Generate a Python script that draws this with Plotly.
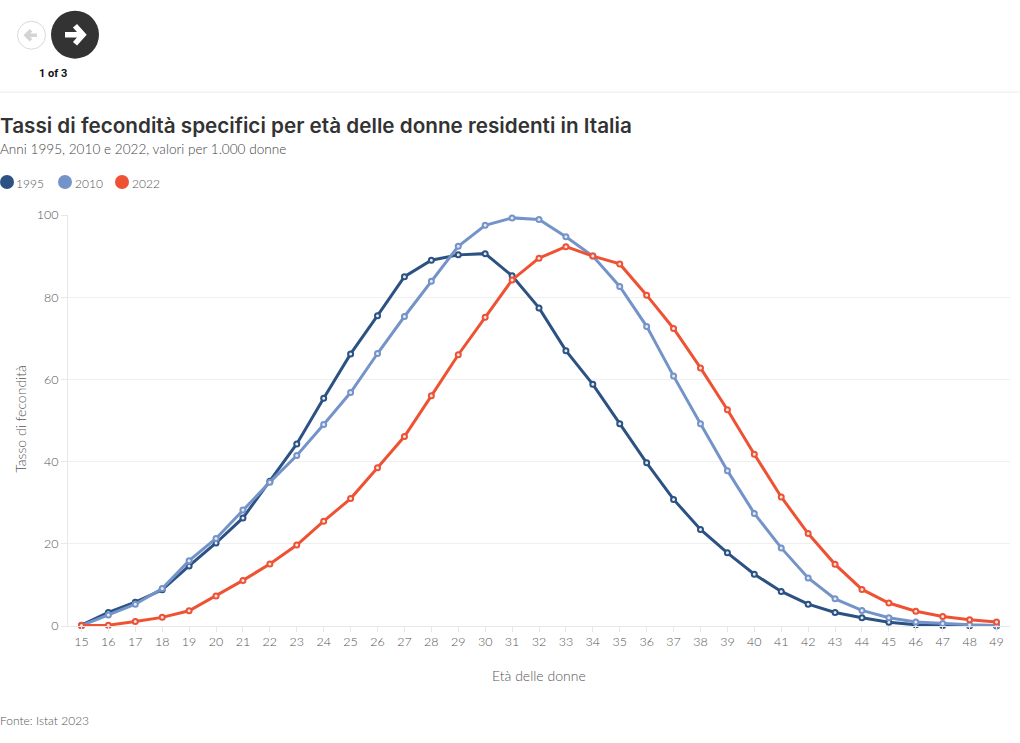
import plotly.graph_objects as go

ages = list(range(15, 50))
v1995 = [0.2,3.3,5.8,8.8,14.6,20.2,26.3,35.2,44.3,55.4,66.2,75.5,85.0,89.0,90.3,90.6,85.2,77.4,67.0,58.8,49.2,39.7,30.8,23.5,17.8,12.6,8.4,5.3,3.3,2.0,0.9,0.3,0.1,0.05,0.02]
v2010 = [0.1,2.7,5.3,9.1,15.9,21.3,28.2,35.0,41.5,49.0,56.8,66.3,75.3,83.9,92.4,97.5,99.3,98.9,94.7,90.0,82.6,72.9,60.8,49.2,37.8,27.4,19.0,11.7,6.6,3.8,2.0,1.0,0.6,0.3,0.1]
v2022 = [0.1,0.2,1.1,2.1,3.7,7.3,11.1,15.1,19.7,25.5,31.0,38.5,46.1,56.0,66.0,75.1,84.2,89.5,92.3,90.0,88.1,80.5,72.4,62.8,52.6,41.8,31.4,22.5,15.0,8.9,5.6,3.6,2.3,1.5,1.0]
series = [("1995", v1995, "#2b5283"), ("2010", v2010, "#7494c9"), ("2022", v2022, "#ee5233")]
y_ticks = [0, 20, 40, 60, 80, 100]

W, H = 1020, 743
L, R, T, B = 68, 1010, 215, 626.5
FONT = "Lato"
TITLE_FONT = "Inter"
GREY = "#555555"

def px(x): return (x - L) / (R - L)
def py(y): return (B - y) / (B - T)

fig = go.Figure()
for name, vals, col in series:
    fig.add_trace(go.Scatter(x=ages, y=vals, name=name, mode="lines+markers", cliponaxis=False,
                             line=dict(color=col, width=3),
                             marker=dict(size=5, color="#e8eaf0", line=dict(color=col, width=2)),
                             showlegend=False))

def text(x, y, s, size, color=GREY, anchor="left", weight=300, angle=0, family=FONT):
    fig.add_annotation(xref="paper", yref="paper", x=px(x), y=py(y), text=s, showarrow=False,
                       xanchor=anchor, yanchor="middle", textangle=angle, borderpad=0, borderwidth=0,
                       font=dict(family=family, size=size, color=color, weight=weight))

def circle(cx, cy, r, fill, line=None):
    fig.add_shape(type="circle", xref="paper", yref="paper", x0=px(cx-r), x1=px(cx+r), y0=py(cy+r), y1=py(cy-r),
                  fillcolor=fill, line=dict(color=line or fill, width=1 if line else 0))

# navigation chrome
circle(31.5, 35, 14, "#ffffff", "#d9d9d9")
fig.add_shape(type="path", xref="paper", yref="paper",
              path=f"M {px(37)} {py(35)} L {px(26)} {py(35)} M {px(31)} {py(30)} L {px(26)} {py(35)} L {px(31)} {py(40)}",
              line=dict(color="#d4d4d4", width=3.5))
circle(75, 34.5, 24, "#333333")
fig.add_shape(type="path", xref="paper", yref="paper",
              path=f"M {px(65)} {py(34.5)} L {px(83)} {py(34.5)} M {px(75)} {py(25.5)} L {px(83)} {py(34.5)} L {px(75)} {py(43.5)}",
              line=dict(color="#ffffff", width=5.5))
fig.add_shape(type="line", xref="paper", yref="paper", x0=px(0), x1=px(W), y0=py(92), y1=py(92),
              line=dict(color="#ececec", width=1))
text(53, 73.5, "1 of 3", 11, "#111111", "center", weight=700, family="Roboto")

# headings
text(0, 125, "Tassi di fecondità specifici per età delle donne residenti in Italia", 20.7, "#333333", weight=600, family=TITLE_FONT)
text(0, 149, "Anni 1995, 2010 e 2022, valori per 1.000 donne", 13.6, "#444444")

# legend
for (name, _, col), cx, tx in zip(series, (7, 65, 122), (16, 75, 132)):
    circle(cx, 182, 7, col)
    text(tx, 183, name, 12, GREY)

text(0, 721, "Fonte: Istat 2023", 12, GREY)
text(539, 676, "Età delle donne", 14, GREY, "center")
text(21, 419, "Tasso di fecondità", 14, GREY, "center", angle=-90)

tick = dict(size=12.5, color=GREY, weight=300, family=FONT)
fig.update_layout(
    width=W, height=H, paper_bgcolor="#ffffff", plot_bgcolor="#ffffff", showlegend=False,
    margin=dict(l=L, r=W-R, t=T, b=H-B, pad=0, autoexpand=False),
    font=dict(family=FONT, color=GREY, size=12.5),
    xaxis=dict(type="linear", range=[14.5, 49.5], tickmode="array", tickvals=ages, ticktext=[str(a) for a in ages],
               showgrid=False, zeroline=False, showline=True, linecolor="#e8e8e8", linewidth=1,
               ticks="outside", ticklen=5, tickcolor="#e8e8e8", tickfont=tick, ticklabelstandoff=-1),
    yaxis=dict(range=[0, 100], tickmode="array", tickvals=y_ticks, showgrid=True, gridcolor="#efefef", gridwidth=1,
               zeroline=False, showline=True, linecolor="#e8e8e8", linewidth=1,
               ticks="outside", ticklen=6, tickcolor="#e8e8e8", tickfont=tick),
)
fig.write_html("out.html", post_script="document.body.style.margin='0';", config={"displayModeBar": False})
